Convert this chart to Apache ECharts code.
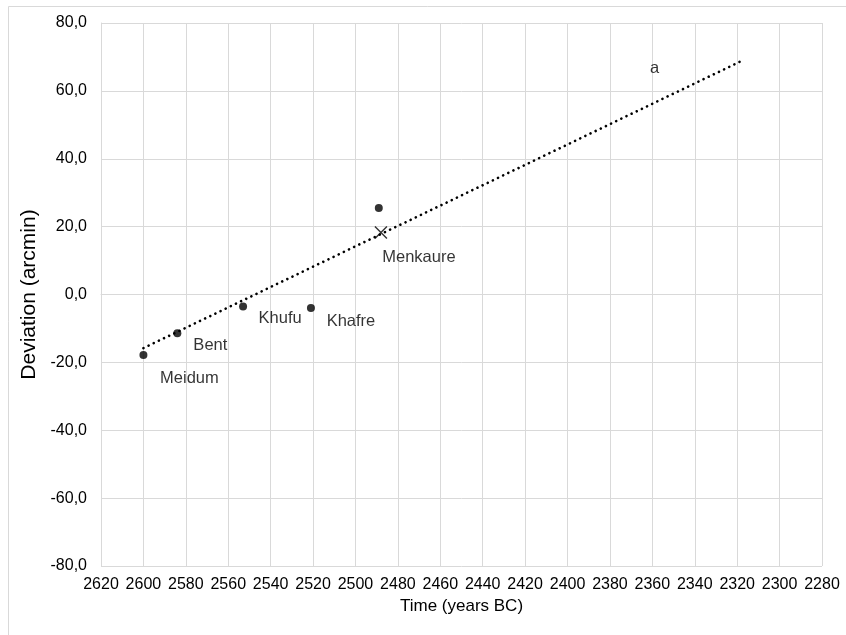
<!DOCTYPE html>
<html>
<head>
<meta charset="utf-8">
<script src="https://cdn.jsdelivr.net/npm/echarts@6/dist/echarts.min.js"></script>
<style>
html,body{margin:0;padding:0;background:#fff;}
#chart{width:846px;height:635px;}
</style>
</head>
<body>
<div id="chart"></div>
<script>
// Data
const pyramidNames = ['Meidum', 'Bent', 'Khufu', 'Khafre'];
const pyramidYears = [2600, 2584, 2553, 2521];
const pyramidDeviation = [-17.8, -11.4, -3.5, -4.0];
const menkaureDot = [2489, 25.5];
const menkaureCross = [2488, 18.3];
const trendYears = [2600, 2317];
const trendDeviation = [-15.8, 69.1];
const noteLabel = ['a', 2359, 66.7];
const xTickMin = 2280, xTickMax = 2620, xTickStep = 20;
const yTickMin = -80, yTickMax = 80, yTickStep = 20;

const labelOffsets = {
  Meidum: [46, 24],
  Bent: [33, 12],
  Khufu: [37, 12],
  Khafre: [40, 13]
};

const FONT = '"Liberation Sans", Arial, sans-serif';
const TXT = '#000';
const GRID = '#d9d9d9';

const chart = echarts.init(document.getElementById('chart'), null, {renderer: 'canvas'});

const pyramidData = pyramidNames.map((n, i) => ({
  name: n,
  value: [pyramidYears[i], pyramidDeviation[i]],
  label: {offset: labelOffsets[n]}
}));

chart.setOption({
  animation: false,
  backgroundColor: '#fff',
  graphic: [{
    type: 'rect',
    shape: {x: 8.5, y: 6.5, width: 900, height: 700},
    style: {fill: 'none', stroke: GRID, lineWidth: 1},
    silent: true
  }],
  grid: {left: 101, right: 24, top: 23, bottom: 69, containLabel: false},
  xAxis: {
    type: 'value',
    min: xTickMin, max: xTickMax, interval: xTickStep,
    inverse: true,
    name: 'Time (years BC)',
    nameLocation: 'middle',
    nameGap: 32,
    nameTextStyle: {fontFamily: FONT, fontSize: 17, color: TXT},
    axisLine: {show: true, lineStyle: {color: GRID, width: 1}},
    axisTick: {show: false},
    splitLine: {show: true, lineStyle: {color: GRID, width: 1}},
    axisLabel: {fontFamily: FONT, fontSize: 16, color: TXT, margin: 11,
      formatter: v => String(v)}
  },
  yAxis: {
    type: 'value',
    min: yTickMin, max: yTickMax, interval: yTickStep,
    name: 'Deviation (arcmin)',
    nameLocation: 'middle',
    nameGap: 54,
    nameRotate: 90,
    nameTextStyle: {fontFamily: FONT, fontSize: 21, color: TXT},
    axisLine: {show: true, lineStyle: {color: GRID, width: 1}},
    axisTick: {show: false},
    splitLine: {show: true, lineStyle: {color: GRID, width: 1}},
    axisLabel: {
      fontFamily: FONT, fontSize: 16, color: TXT, margin: 14,
      formatter: v => v.toFixed(1).replace('.', ',')
    }
  },
  series: [
    {
      type: 'line',
      data: trendYears.map((y, i) => [y, trendDeviation[i]]),
      symbol: 'none',
      lineStyle: {color: '#000', width: 2.6, type: [0.1, 5.6], cap: 'round'},
      z: 2
    },
    {
      type: 'scatter',
      data: pyramidData,
      symbol: 'circle',
      symbolSize: 8,
      itemStyle: {color: '#000'},
      label: {
        show: true, position: 'inside', formatter: '{b}',
        fontFamily: FONT, fontSize: 16.5, color: TXT
      },
      z: 3
    },
    {
      type: 'scatter',
      data: [menkaureDot],
      symbol: 'circle',
      symbolSize: 8,
      itemStyle: {color: '#000'},
      z: 3
    },
    {
      type: 'scatter',
      data: [{name: 'Menkaure', value: menkaureCross}],
      symbol: 'path://M0,0L10,10M10,0L0,10',
      symbolSize: 12,
      itemStyle: {color: 'none', borderColor: '#000', borderWidth: 1.4},
      label: {
        show: true, position: 'inside', formatter: '{b}', offset: [38, 25],
        fontFamily: FONT, fontSize: 16.5, color: TXT
      },
      z: 4
    },
    {
      type: 'scatter',
      data: [{name: noteLabel[0], value: [noteLabel[1], noteLabel[2]]}],
      symbol: 'circle',
      symbolSize: 1,
      itemStyle: {color: 'rgba(0,0,0,0)'},
      label: {
        show: true, position: 'inside', formatter: '{b}',
        fontFamily: FONT, fontSize: 16.5, color: TXT
      },
      z: 4
    }
  ]
});
</script>
</body>
</html>
